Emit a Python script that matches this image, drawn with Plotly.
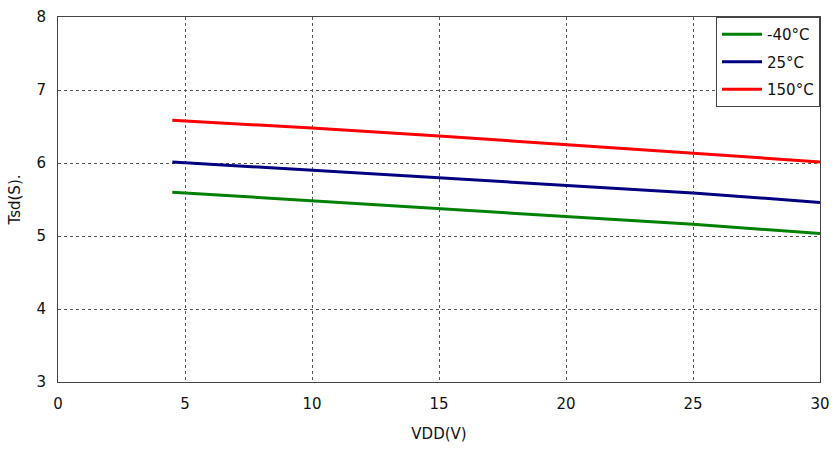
import plotly.graph_objects as go

vdd = [4.5, 10, 15, 20, 25, 30]
t_m40 = [5.60, 5.48, 5.37, 5.27, 5.16, 5.035]
t_25 = [6.015, 5.90, 5.80, 5.70, 5.59, 5.46]
t_150 = [6.585, 6.48, 6.37, 6.25, 6.14, 6.015]
names = ["-40°C", "25°C", "150°C"]
colors = ["#008000", "#000080", "#ff0000"]

fig = go.Figure()
for y, n, c in zip([t_m40, t_25, t_150], names, colors):
    fig.add_trace(go.Scatter(x=vdd, y=y, mode="lines", name=n, legendgroup=n,
                             line=dict(color=c, width=3)))

font = dict(family="DejaVu Sans, Verdana, sans-serif", size=15, color="#111")
axis_common = dict(showgrid=True, gridcolor="#555", griddash="dot", gridwidth=1,
                   showline=True, linecolor="#444", linewidth=1, mirror=True,
                   zeroline=False, ticks="", tickfont=font, automargin=False)
fig.update_xaxes(range=[0, 30], dtick=5, ticklabelstandoff=8,
                 title=dict(text="VDD(V)", font=font, standoff=16), **axis_common)
fig.update_yaxes(range=[3, 8], dtick=1, ticklabelstandoff=8,
                 title=dict(text="Tsd(S).", font=font, standoff=12), **axis_common)

fig.update_layout(
    width=832, height=450,
    margin=dict(l=58, r=12, t=17, b=68),
    plot_bgcolor="white", paper_bgcolor="white",
    font=font,
    legend=dict(x=1, y=1, xanchor="right", yanchor="top",
                bordercolor="#444", borderwidth=1, bgcolor="white",
                font=dict(family="DejaVu Sans, Verdana, sans-serif", size=15, color="#111"),
                tracegroupgap=5, itemwidth=40),
)
fig.write_html("out.html")
